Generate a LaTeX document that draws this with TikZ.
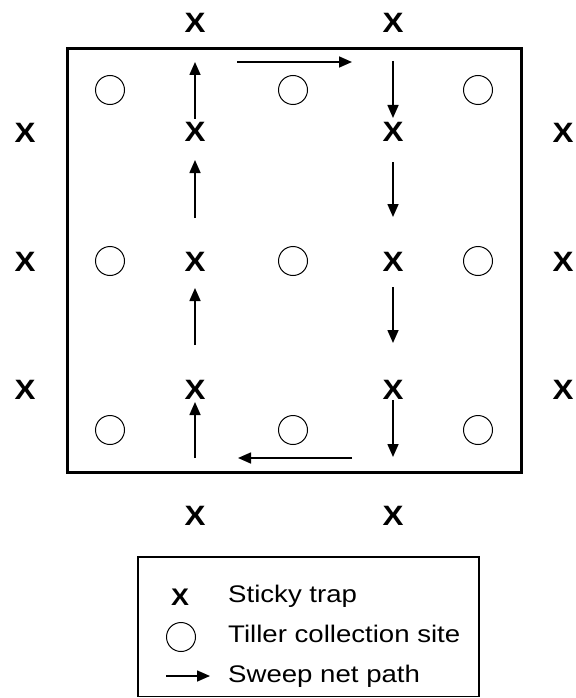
\documentclass[tikz,border=0pt]{standalone}
\usepackage{fontspec}
\setmainfont{Liberation Sans}
\usetikzlibrary{arrows.meta}
\newcommand{\trap}[3]{\node[trap] (#1) at (#2,#3) {\scalebox{1.12}[1]{X}};}
\newcommand{\site}[3]{\node[site] (#1) at (#2,#3) {};}

\begin{document}
\begin{tikzpicture}[x=1pt,y=-1pt,
  trap/.style={font=\fontsize{28}{28}\selectfont\bfseries,inner sep=0pt},
  site/.style={circle,draw,line width=1pt,minimum size=29pt,inner sep=0pt},
  sweep/.style={line width=1.6pt,-{Triangle[length=13pt,width=11pt]}},
  key/.style={anchor=base west,inner sep=0pt,font=\fontsize{24}{24}\selectfont}]
\useasboundingbox (0,0) rectangle (575,698);
% field
\draw[line width=3pt] (67,49) rectangle (521,472);
% sticky traps
\trap{tt1}{195}{23}
\trap{tt2}{393}{23}
\trap{tl1}{25}{133}
\trap{tl2}{25}{262}
\trap{tl3}{25}{390}
\trap{tr1}{563}{133}
\trap{tr2}{563}{262}
\trap{tr3}{563}{390}
\trap{ti1}{195}{132}
\trap{ti2}{393}{132}
\trap{ti3}{195}{262}
\trap{ti4}{393}{262}
\trap{ti5}{195}{390}
\trap{ti6}{393}{390}
\trap{tb1}{195}{516}
\trap{tb2}{393}{516}
% tiller collection sites
\site{s1}{110}{90}
\site{s2}{293}{90}
\site{s3}{478}{90}
\site{s4}{110}{261}
\site{s5}{293}{261}
\site{s6}{478}{261}
\site{s7}{110}{430}
\site{s8}{293}{430}
\site{s9}{478}{430}
% sweep net path
\foreach \a/\b in {458/402,345/288,218/160,119/62}
  \draw[sweep] (195,\a) -- (195,\b);
\draw[sweep] (237,62) -- (352,62);
\foreach \a/\b in {61/118,162/217,287/343,400/457}
  \draw[sweep] (393,\a) -- (393,\b);
\draw[sweep] (352,458) -- (238,458);
% legend
\draw[line width=1.5pt] (138,557) rectangle (479,696.5);
\node[trap,font=\fontsize{24}{24}\selectfont\bfseries] (kx) at (180,597) {\scalebox{1.12}[1]{X}};
\node[site] (ks) at (181,637) {};
\coordinate (ka) at (166,676);
\coordinate (kb) at (210,676);
\draw[sweep] (ka) -- (kb);
\node[key] (k1) at (228,602) {\scalebox{1.15}[1]{Sticky trap}};
\node[key] (k2) at (228,642) {\scalebox{1.15}[1]{Tiller collection site}};
\node[key] (k3) at (228,682) {\scalebox{1.15}[1]{Sweep net path}};
\end{tikzpicture}
\end{document}
